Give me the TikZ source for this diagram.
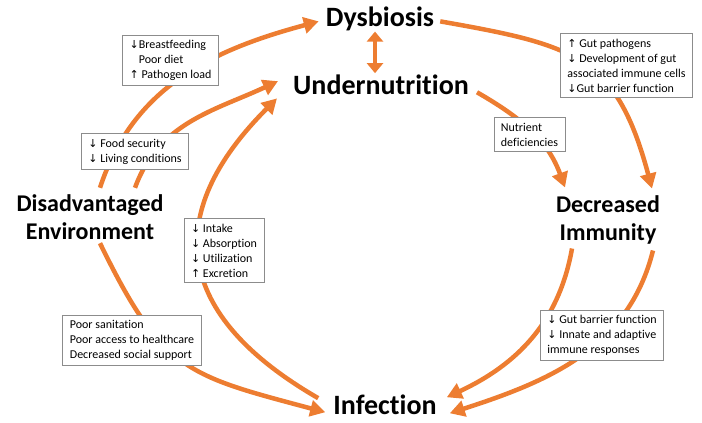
\documentclass[tikz,border=0pt]{standalone}
\usepackage{fontspec}
\setmainfont{Carlito}[Ligatures=NoCommon]
\newfontfamily\arrowfont{DejaVu Sans}
\usetikzlibrary{arrows.meta}
\definecolor{orange1}{HTML}{ED7D31}
\definecolor{boxgray}{HTML}{8C8C8C}
\newcommand{\arrdn}{{\arrowfont\fontsize{11}{15}\selectfont\char"2193}}
\newcommand{\arrup}{{\arrowfont\fontsize{11}{15}\selectfont\char"2191}}
\begin{document}
\begin{tikzpicture}[x=1pt,y=1pt,
    flow/.style={draw=orange1, line width=4.5pt, -{Triangle[length=15pt,width=16pt]}},
    factor/.style={font=\fontsize{28}{28}\selectfont\bfseries, align=center, inner sep=2pt},
    factor2/.style={factor, font=\fontsize{24}{28}\selectfont\bfseries},
    note/.style={draw=boxgray, fill=white, line width=0.8pt, font=\fontsize{12}{15}\selectfont,
      align=left, inner xsep=7pt, inner ysep=5pt}]
  \useasboundingbox (0,0) rectangle (702,423);
  % factors
  \node[factor, anchor=base] (dys) at (380,396) {Dysbiosis};
  \node[factor, anchor=base] (und) at (381,328) {Undernutrition};
  \node[factor, anchor=base] (inf) at (385,8) {Infection};
  \node[factor2] (dis) at (90,205.5) {Disadvantaged\\Environment};
  \node[factor2] (imm) at (608,203) {Decreased\\Immunity};
  % arrows
  \draw[flow] ([xshift=10pt,yshift=5pt]dis.north) to[out=72,in=195] ([xshift=-5pt,yshift=-2pt]dys.west);
  \draw[flow] ([xshift=45pt,yshift=5pt]dis.north) to[out=70,in=205] ([xshift=-13pt,yshift=-8pt]und.north west);
  \draw[flow] ([xshift=-13pt,yshift=-5pt]inf.north west) to[out=150,in=225,looseness=1.4] ([xshift=-14pt,yshift=-1pt]und.south west);
  \draw[flow] ([xshift=10pt,yshift=-1pt]dis.south) to[out=-64,in=165,looseness=1.3] ([xshift=-6pt,yshift=-7pt]inf.west);
  \draw[flow] ([xshift=4pt,yshift=-2pt]dys.east) to[out=-10,in=105,looseness=1.3] ([xshift=44pt,yshift=5pt]imm.north);
  \draw[flow] ([xshift=6pt,yshift=-7pt]und.east) to[out=-30,in=110] ([xshift=-43pt,yshift=6pt]imm.north);
  \draw[flow] ([xshift=-36pt,yshift=-2pt]imm.south) to[out=-100,in=25] ([xshift=8pt,yshift=8pt]inf.east);
  \draw[flow] ([xshift=45pt,yshift=-4pt]imm.south) to[out=-104,in=18] ([xshift=11pt,yshift=-8pt]inf.east);
  \draw[flow, {Triangle[length=10pt,width=16pt]}-{Triangle[length=10pt,width=16pt]}]
    ([xshift=-5pt,yshift=2pt]dys.south) -- ([xshift=-6pt]und.north);
  % notes
  \node[note] (n1) at (170.5,362.5) {\arrdn Breastfeeding\\\phantom{\arrdn}Poor diet\\\arrup{} Pathogen load};
  \node[note] (n2) at (626.5,357.5) {\arrup{} Gut pathogens\\\arrdn{} Development of gut\\associated immune cells\\\arrdn Gut barrier function};
  \node[note] (n3) at (529.5,288.5) {Nutrient\\deficiencies};
  \node[note] (n4) at (135,271.5) {\arrdn{} Food security\\\arrdn{} Living conditions};
  \node[note] (n5) at (224,172.5) {\arrdn{} Intake\\\arrdn{} Absorption\\\arrdn{} Utilization\\\arrup{} Excretion};
  \node[note] (n6) at (132,83) {Poor sanitation\\Poor access to healthcare\\Decreased social support};
  \node[note] (n7) at (602,87.5) {\arrdn{} Gut barrier function\\\arrdn{} Innate and adaptive\\immune responses};
\end{tikzpicture}
\end{document}
